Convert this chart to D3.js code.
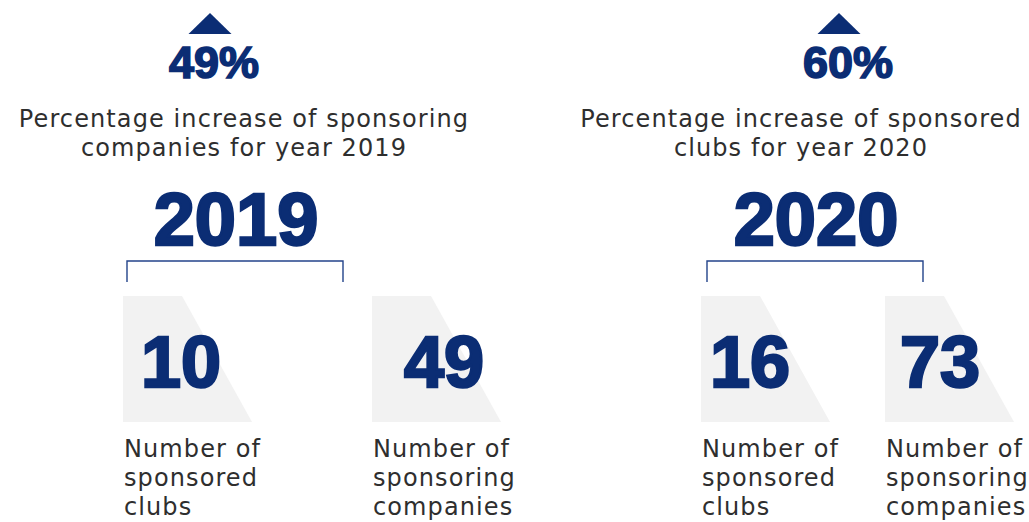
<!DOCTYPE html>
<html>
<head>
<meta charset="utf-8">
<script src="https://cdn.jsdelivr.net/npm/d3@7"></script>
<style>
  html, body { margin: 0; padding: 0; background: #fff; }
</style>
</head>
<body>
<div id="chart"></div>
<script>
var svgWidth = 1029;
var svgHeight = 522;

// data
var years = ["2019", "2020"];
var increases = [49, 60];
var increaseText = [
  ["Percentage increase of sponsoring", "companies for year 2019"],
  ["Percentage increase of sponsored", "clubs for year 2020"]
];
var clubs = [10, 16];
var companies = [49, 73];
var clubsLabel = ["Number of", "sponsored", "clubs"];
var companiesLabel = ["Number of", "sponsoring", "companies"];

var navy = "#0b2d74";
var grey = "#2e2e2e";
var boldFont = "'Liberation Sans', Arial, sans-serif";
var bodyFont = "'DejaVu Sans', sans-serif";

// layout scales (panel anchors)
var triX = d3.scaleOrdinal().domain(years).range([210, 839]);
var pctX = d3.scaleOrdinal().domain(years).range([214, 848]);
var subX = d3.scaleOrdinal().domain(years).range([244, 801]);
var yearX = d3.scaleOrdinal().domain(years).range([236, 816]);
var bracketX0 = d3.scaleOrdinal().domain(years).range([127, 707]);
var bracketX1 = d3.scaleOrdinal().domain(years).range([343, 923]);
var clubBoxX = d3.scaleOrdinal().domain(years).range([123, 701]);
var compBoxX = d3.scaleOrdinal().domain(years).range([372, 885]);
var clubNumX = d3.scaleOrdinal().domain(years).range([181, 750]);
var compNumX = d3.scaleOrdinal().domain(years).range([444, 940]);

var y = {
  triTop: 13, triBase: 34, pct: 78, sub1: 127, subGap: 29,
  year: 245, brTop: 261, brBot: 282,
  boxTop: 296, boxBot: 422, num: 387, lab1: 457, labGap: 29
};

var svg = d3.select("#chart")
  .append("svg")
  .attr("width", svgWidth)
  .attr("height", svgHeight);

var panels = years.map(function(yr, i) {
  return { year: yr, inc: increases[i], sub: increaseText[i], clubs: clubs[i], companies: companies[i] };
});

var g = svg.selectAll("g.panel")
  .data(panels)
  .enter()
  .append("g")
  .attr("class", "panel");

// up triangle
g.append("path")
  .attr("d", function(d) {
    var cx = triX(d.year);
    return "M" + (cx - 21.5) + "," + y.triBase + "L" + cx + "," + y.triTop + "L" + (cx + 21.5) + "," + y.triBase + "Z";
  })
  .attr("fill", navy);

// percentage
g.append("text")
  .attr("x", function(d) { return pctX(d.year); })
  .attr("y", y.pct)
  .attr("text-anchor", "middle")
  .style("font-family", boldFont)
  .style("font-weight", "bold")
  .style("font-size", "45px")
  .style("fill", navy)
  .style("stroke", navy)
  .style("stroke-width", 1.6)
  .text(function(d) { return d.inc + "%"; });

// subtitle lines
g.append("text")
  .attr("text-anchor", "middle")
  .style("font-family", bodyFont)
  .style("font-size", "24px")
  .style("letter-spacing", "1.1px")
  .style("fill", grey)
  .selectAll("tspan")
  .data(function(d) { return d.sub.map(function(s) { return { year: d.year, s: s }; }); })
  .enter()
  .append("tspan")
  .attr("x", function(d) { return subX(d.year); })
  .attr("y", function(d, i) { return y.sub1 + i * y.subGap; })
  .text(function(d) { return d.s; });

// year
g.append("text")
  .attr("x", function(d) { return yearX(d.year); })
  .attr("y", y.year)
  .attr("text-anchor", "middle")
  .style("font-family", boldFont)
  .style("font-weight", "bold")
  .style("font-size", "74px")
  .style("fill", navy)
  .style("stroke", navy)
  .style("stroke-width", 2.5)
  .text(function(d) { return d.year; });

// bracket
g.append("path")
  .attr("d", function(d) {
    return "M" + bracketX0(d.year) + "," + y.brBot + "V" + y.brTop + "H" + bracketX1(d.year) + "V" + y.brBot;
  })
  .attr("fill", "none")
  .attr("stroke", "#23438a")
  .attr("stroke-width", 1.4);

// stat boxes
function statBox(sel, xScale, numScale, key, labelLines) {
  var b = sel.append("g");
  b.append("path")
    .attr("d", function(d) {
      var x0 = xScale(d.year);
      return "M" + x0 + "," + y.boxTop + "H" + (x0 + 59) + "L" + (x0 + 129) + "," + y.boxBot + "H" + x0 + "Z";
    })
    .attr("fill", "#f2f2f2");
  b.append("text")
    .attr("x", function(d) { return numScale(d.year); })
    .attr("y", y.num)
    .attr("text-anchor", "middle")
    .style("font-family", boldFont)
    .style("font-weight", "bold")
    .style("font-size", "72px")
    .style("fill", navy)
    .style("stroke", navy)
    .style("stroke-width", 2.5)
    .text(function(d) { return d[key]; });
  b.append("text")
    .style("font-family", bodyFont)
    .style("font-size", "24px")
    .style("letter-spacing", "1.1px")
    .style("fill", grey)
    .selectAll("tspan")
    .data(function(d) { return labelLines.map(function(s) { return { year: d.year, s: s }; }); })
    .enter()
    .append("tspan")
    .attr("x", function(d) { return xScale(d.year) + 1; })
    .attr("y", function(d, i) { return y.lab1 + i * y.labGap; })
    .text(function(d) { return d.s; });
}

statBox(g, clubBoxX, clubNumX, "clubs", clubsLabel);
statBox(g, compBoxX, compNumX, "companies", companiesLabel);
</script>
</body>
</html>
